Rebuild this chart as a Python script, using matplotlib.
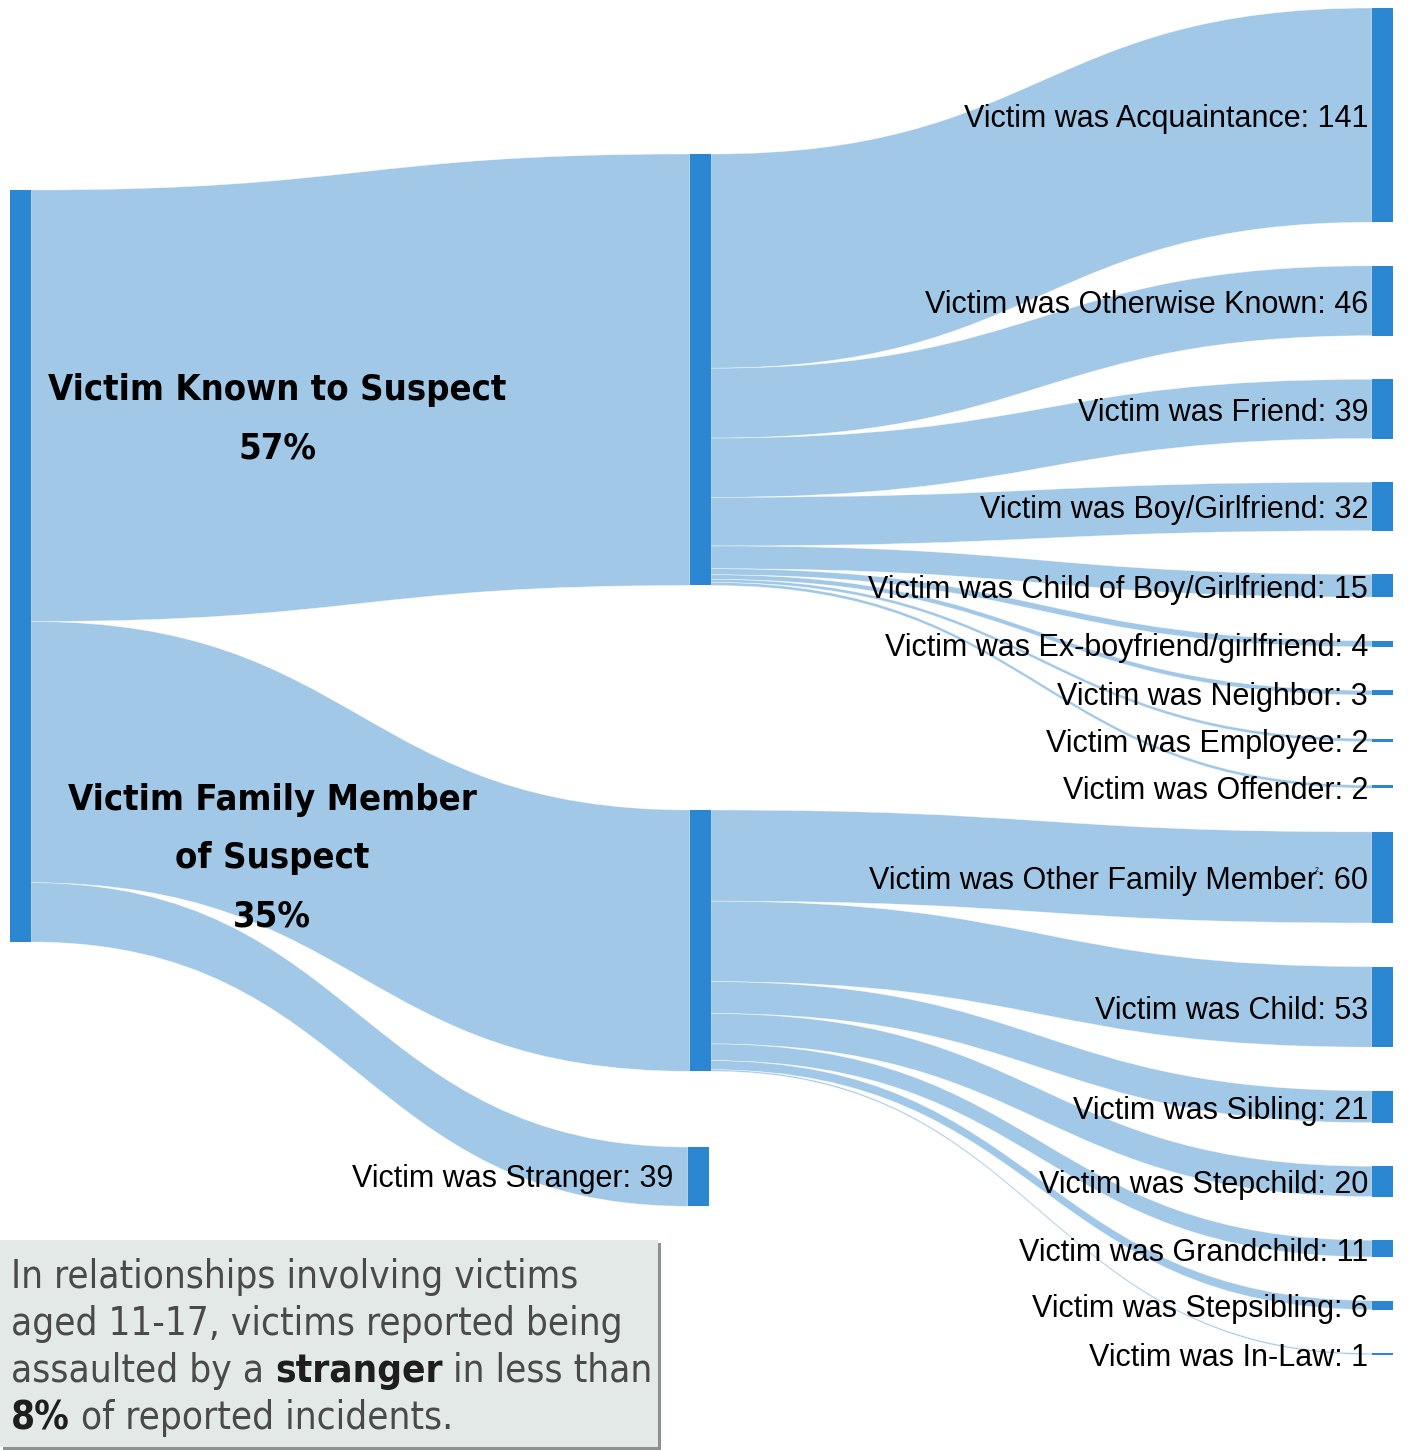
"""
Sankey of victim relationship to suspect (victims aged 11-17).

Three columns: all incidents -> relationship group -> detailed relationship.
Ribbons are cubic bezier bands drawn with matplotlib patches.
"""

import matplotlib.pyplot as plt
from matplotlib.path import Path
from matplotlib.patches import PathPatch, Rectangle
from matplotlib import font_manager

# --- Data ---
group_names = ["Victim Known to Suspect", "Victim Family Member of Suspect", "Victim was Stranger"]

known_labels = ["Acquaintance", "Otherwise Known", "Friend", "Boy/Girlfriend",
                "Child of Boy/Girlfriend", "Ex-boyfriend/girlfriend", "Neighbor",
                "Employee", "Offender"]
known_counts = [141, 46, 39, 32, 15, 4, 3, 2, 2]

family_labels = ["Other Family Member", "Child", "Sibling", "Stepchild",
                 "Grandchild", "Stepsibling", "In-Law"]
family_counts = [60, 53, 21, 20, 11, 6, 1]

stranger_count = 39

note_lines = [
    [("In relationships involving victims", False)],
    [("aged 11-17, victims reported being", False)],
    [("assaulted by a ", False), ("stranger", True), (" in less than", False)],
    [("8%", True), (" of reported incidents.", False)],
]

# --- Styling ---
NODE_COLOR = "#2b87d1"
LINK_COLOR = "#a2c8e8"
W, H = 1408, 1450

_fonts = font_manager.fontManager.ttflist
_names = {f.name for f in _fonts}


def pick_font(candidates):
    for c in candidates:
        if c in _names:
            return c
    return "DejaVu Sans"


LABEL_FONT = pick_font(["Liberation Sans", "Open Sans", "DejaVu Sans"])

# condensed face for the headline and note, if one is installed
if any(f.name == "DejaVu Sans" and f.stretch == "condensed" for f in _fonts):
    COND = dict(family="DejaVu Sans", fontstretch="condensed")
elif "Liberation Sans Narrow" in _names:
    COND = dict(family="Liberation Sans Narrow")
else:
    COND = dict(family=pick_font(["Roboto", "Lato", "DejaVu Sans"]))

group_totals = [sum(known_counts), sum(family_counts), stranger_count]
grand_total = sum(group_totals)

# --- Layout (pixels, y down) ---
node_w = 21
col_x = [10, 690, 1372]
scale = 752.0 / grand_total        # px per incident
left_top = 190
mid_tops = [154, 810, 1147]
mid_x = [690, 690, 688]
right_top = 8
right_gap = 43.6

fig = plt.figure(figsize=(W / 100, H / 100), dpi=100)
ax = fig.add_axes([0, 0, 1, 1])
ax.set_xlim(0, W)
ax.set_ylim(H, 0)
ax.axis("off")
fig.canvas.draw()
renderer = fig.canvas.get_renderer()


def ribbon(x0, y0, x1, y1, h):
    """Filled band of height h from (x0, y0) to (x1, y1), tops given."""
    xm = (x0 + x1) / 2
    verts = [(x0, y0), (xm, y0), (xm, y1), (x1, y1),
             (x1, y1 + h), (xm, y1 + h), (xm, y0 + h), (x0, y0 + h), (x0, y0)]
    codes = [Path.MOVETO, Path.CURVE4, Path.CURVE4, Path.CURVE4,
             Path.LINETO, Path.CURVE4, Path.CURVE4, Path.CURVE4, Path.CLOSEPOLY]
    ax.add_patch(PathPatch(Path(verts, codes), facecolor=LINK_COLOR,
                           edgecolor=(1, 1, 1, 0.6), linewidth=0.4, zorder=1))


def node(x, y, h):
    ax.add_patch(Rectangle((x, y), node_w, h, facecolor=NODE_COLOR,
                           edgecolor="none", zorder=3))


def fit_size(text, width, props):
    """Font size (pt) that makes text span the given pixel width."""
    t = ax.text(0, 0, text, fontsize=20, **props)
    w = t.get_window_extent(renderer).width
    t.remove()
    return 20 * width / w


# right column positions
right_counts = known_counts + family_counts
right_labels = known_labels + family_labels
right_tops = []
y = right_top
for c in right_counts:
    right_tops.append(y)
    y += c * scale + right_gap

# left node + links to groups
node(col_x[0], left_top, grand_total * scale)
y_src = left_top
for g, tot in enumerate(group_totals):
    ribbon(col_x[0] + node_w, y_src, mid_x[g], mid_tops[g], tot * scale)
    y_src += tot * scale

# group nodes + links to detailed relationships
idx = 0
for g, counts in enumerate([known_counts, family_counts]):
    y_src = mid_tops[g]
    for c in counts:
        ribbon(mid_x[g] + node_w, y_src, col_x[2], right_tops[idx], c * scale)
        y_src += c * scale
        idx += 1
for g, tot in enumerate(group_totals):
    node(mid_x[g], mid_tops[g], tot * scale)

label_size = 22
for i, c in enumerate(right_counts):
    h = c * scale
    node(col_x[2], right_tops[i], h)
    ax.text(1368, right_tops[i] + h / 2 + 4, f"Victim was {right_labels[i]}: {c}",
            ha="right", va="center", fontsize=label_size, family=LABEL_FONT,
            color="black", zorder=4)

s_top = mid_tops[2]
ax.text(673, s_top + stranger_count * scale / 2 + 2, f"{group_names[2]}: {stranger_count}",
        ha="right", va="center", fontsize=label_size, family=LABEL_FONT, zorder=4)

# footnote mark next to "Member"
ax.text(1317, 870, "2", fontsize=5, ha="center", va="center", family=LABEL_FONT)

# big group labels with percentages
pct = [round(100 * t / grand_total) for t in group_totals]
big_props = dict(fontweight="bold", **COND)
big_size = min(fit_size("Victim Known to Suspect", 460, big_props), 34)
big = dict(fontsize=big_size, ha="center", va="center", color="black",
           zorder=4, **big_props)
for k, line in enumerate(["Victim Known to Suspect", f"{pct[0]}%"]):
    ax.text(277, 390 + 58 * k, line, **big)
for k, line in enumerate(["Victim Family Member", "of Suspect", f"{pct[1]}%"]):
    ax.text(272, 800 + 58 * k, line, **big)

# note box with drop shadow
ax.add_patch(Rectangle((3, 1243), 658, 207, facecolor="#8f9190", edgecolor="none", zorder=5))
ax.add_patch(Rectangle((0, 1240), 658, 207, facecolor="#e3e9e7", edgecolor="none", zorder=6))

note_size = min(fit_size(note_lines[1][0][0], 612, COND), 30)
for ln, parts in enumerate(note_lines):
    x = 11
    for txt, bold in parts:
        t = ax.text(x, 1277 + ln * 47, txt, fontsize=note_size, **COND,
                    fontweight="bold" if bold else "normal",
                    color="#1e1e1e" if bold else "#4a4a4a",
                    ha="left", va="center", zorder=7)
        x += t.get_window_extent(renderer).width

fig.savefig("out.png", dpi=100)
